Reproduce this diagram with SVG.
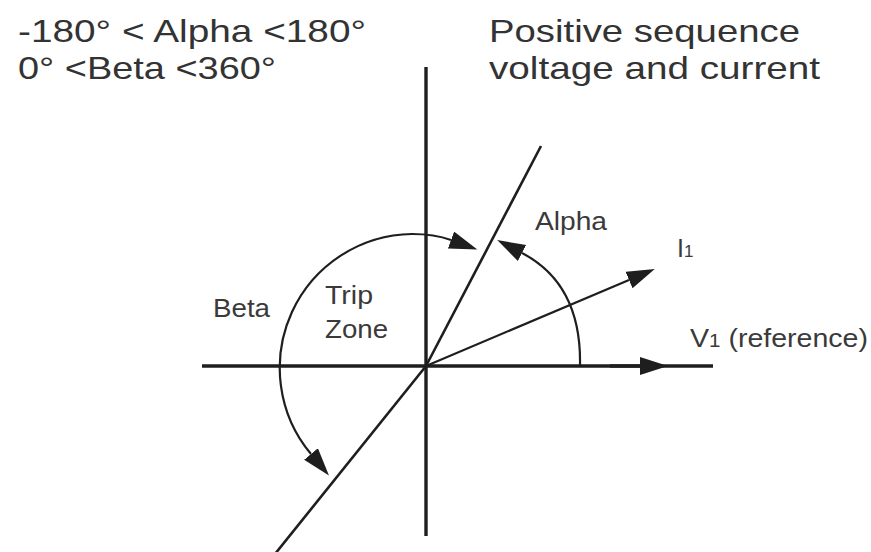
<svg xmlns="http://www.w3.org/2000/svg" width="871" height="552" viewBox="0 0 871 552">
  <style>
    .title { font-family: "Liberation Sans", Arial, sans-serif; font-size: 32px; fill: #333333; }
    .lbl { font-family: "Liberation Sans", Arial, sans-serif; font-size: 25px; fill: #3a3a3a; }
    .axis { stroke: #1e1e1e; stroke-width: 3.4; fill: none; }
    .diag { stroke: #1e1e1e; stroke-width: 2.6; fill: none; }
    .vec { stroke: #1e1e1e; stroke-width: 2.2; fill: none; }
    .arc { stroke: #1e1e1e; stroke-width: 2.2; fill: none; }
  </style>
  <defs>
    <marker id="ah" markerUnits="userSpaceOnUse" markerWidth="30" markerHeight="20" refX="0" refY="9" orient="auto-start-reverse">
      <path d="M0,0 L28,9 L0,18 z" fill="#1e1e1e"/>
    </marker>
  </defs>
  <rect width="871" height="552" fill="#ffffff"/>

  <g id="titles">
    <text class="title" x="18" y="42" textLength="348" lengthAdjust="spacingAndGlyphs">-180° &lt; Alpha &lt;180°</text>
    <text class="title" x="18" y="79" textLength="258" lengthAdjust="spacingAndGlyphs">0° &lt;Beta &lt;360°</text>
    <text class="title" x="489" y="42" textLength="311" lengthAdjust="spacingAndGlyphs">Positive sequence</text>
    <text class="title" x="489" y="79" textLength="331" lengthAdjust="spacingAndGlyphs">voltage and current</text>
  </g>

  <g id="connectors">
    <line id="y-axis" class="axis" x1="426" y1="67" x2="426" y2="536"/>
    <line id="x-axis" class="axis" x1="202" y1="366" x2="713" y2="366"/>
    <path id="v1-arrow" class="axis" d="M610,366 L640,366" marker-end="url(#ah)"/>
    <line id="upper-boundary" class="diag" x1="426" y1="366" x2="541" y2="146"/>
    <line id="lower-boundary" class="diag" x1="426" y1="366" x2="275" y2="554"/>
    <path id="i1-vector" class="vec" d="M426,366 L629,280" marker-end="url(#ah)"/>
    <path id="alpha-arc" class="arc" d="M580,366 C581,320 568,277 522,253" marker-end="url(#ah)"/>
    <path id="beta-arc" class="arc" d="M311,454 A134,134 0 0 1 412,234 C425,234 440,236 451,240" marker-start="url(#ah)" marker-end="url(#ah)"/>
  </g>

  <g id="label-alpha"><text class="lbl" x="535" y="230" textLength="72" lengthAdjust="spacingAndGlyphs">Alpha</text></g>
  <g id="label-i1"><text class="lbl" x="677" y="257">I<tspan font-size="17">1</tspan></text></g>
  <g id="label-v1"><text class="lbl" x="690" y="347" textLength="178" lengthAdjust="spacingAndGlyphs">V<tspan font-size="18">1</tspan> (reference)</text></g>
  <g id="label-beta"><text class="lbl" x="213" y="317" textLength="57" lengthAdjust="spacingAndGlyphs">Beta</text></g>
  <g id="label-trip-zone">
    <text class="lbl" x="325" y="304" textLength="48" lengthAdjust="spacingAndGlyphs">Trip</text>
    <text class="lbl" x="325" y="338" textLength="63" lengthAdjust="spacingAndGlyphs">Zone</text>
  </g>
</svg>
